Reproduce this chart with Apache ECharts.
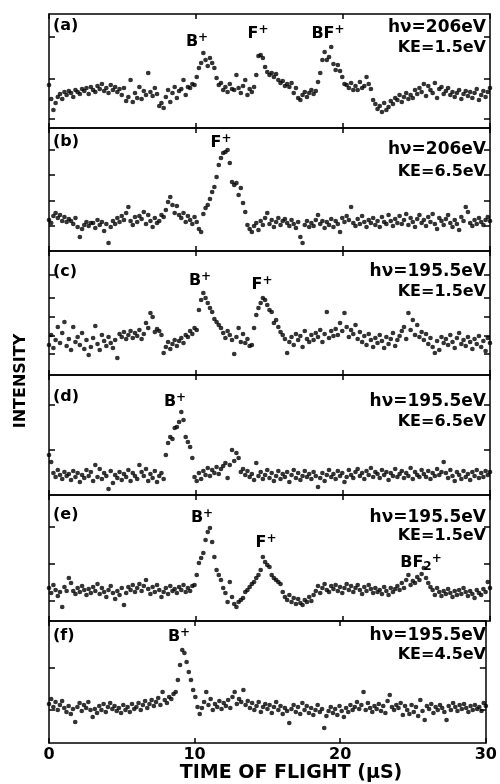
<!DOCTYPE html>
<html>
<head>
<meta charset="utf-8">
<script src="https://cdn.jsdelivr.net/npm/echarts@6/dist/echarts.min.js"></script>
<style>
html, body { margin: 0; padding: 0; background: #fff; }
#chart { width: 500px; height: 784px; }
</style>
</head>
<body>
<div id="chart"></div>
<script>
// time bins, microseconds
var TIME_STEP = 0.15;
var timeTicks = [0, 10, 20, 30];

// intensity per bin (arbitrary units), one list per panel
var panelA = [43, 29, 18, 25, 31, 34, 29, 36, 33, 37,
    35, 31, 38, 36, 34, 39, 37, 40, 34, 41,
    38, 36, 42, 39, 44, 37, 40, 35, 43, 38,
    41, 36, 39, 33, 40, 27, 31, 48, 26, 35,
    30, 41, 29, 37, 33, 55, 36, 32, 40, 34,
    22, 25, 20, 31, 38, 26, 35, 41, 30, 37,
    39, 48, 33, 41, 40, 44, 43, 51, 60, 65,
    75, 68, 62, 70, 65, 60, 50, 43, 45, 38,
    41, 36, 44, 39, 38, 53, 40, 35, 42, 48,
    33, 39, 36, 41, 53, 72, 73, 70, 61, 56,
    53, 55, 51, 54, 48, 45, 47, 42, 44, 41,
    45, 35, 40, 30, 28, 33, 36, 31, 35, 38,
    34, 37, 46, 55, 68, 76, 68, 71, 81, 64,
    58, 63, 57, 51, 44, 43, 40, 45, 38, 42,
    38, 46, 40, 42, 51, 44, 39, 28, 24, 19,
    22, 16, 25, 18, 21, 27, 24, 30, 28, 33,
    26, 31, 35, 29, 33, 30, 38, 34, 40, 36,
    44, 32, 42, 38, 35, 45, 30, 39, 41, 34,
    37, 40, 33, 36, 31, 35, 38, 29, 34, 37,
    32, 36, 30, 35, 39, 28, 33, 37, 31, 36, 40];
var panelB = [31, 28, 35, 38, 33, 36, 30, 34, 29, 32,
    30, 27, 33, 24, 14, 22, 26, 29, 25, 28,
    28, 23, 31, 26, 29, 20, 27, 8, 24, 30,
    27, 33, 29, 35, 31, 38, 44, 30, 26, 34,
    29, 35, 32, 39, 27, 36, 30, 24, 33, 28,
    30, 36, 34, 41, 49, 54, 46, 38, 45, 36,
    33, 38, 29, 35, 31, 27, 34, 29, 22, 19,
    37, 43, 46, 52, 59, 64, 74, 86, 93, 98,
    99, 101, 88, 69, 66, 68, 56, 63, 48, 39,
    26, 22, 19, 25, 28, 21, 30, 26, 33, 38,
    27, 31, 24, 29, 33, 26, 30, 32, 28, 25,
    31, 27, 23, 29, 14, 8, 26, 30, 24, 28,
    25, 31, 36, 27, 30, 23, 29, 26, 32, 24,
    30, 27, 19, 33, 29, 35, 31, 44, 28, 25,
    32, 27, 35, 29, 24, 31, 28, 33, 26, 30,
    24, 34, 29, 27, 36, 30, 25, 32, 28, 35,
    27, 31, 37, 26, 33, 29, 24, 32, 36, 28,
    31, 25, 34, 29, 37, 27, 22, 33, 30, 26,
    32, 36, 28, 24, 31, 27, 21, 34, 30, 44,
    39, 28, 25, 31, 27, 33, 29, 26, 31, 34, 30];
var panelC = [30, 40, 27, 35, 48, 32, 42, 53, 29, 36,
    25, 48, 33, 38, 30, 42, 26, 35, 20, 28,
    37, 49, 31, 25, 40, 34, 29, 38, 32, 27,
    35, 17, 41, 38, 43, 36, 40, 44, 37, 42,
    39, 45, 36, 41, 52, 47, 62, 58, 43, 46,
    44, 40, 22, 28, 33, 26, 31, 35, 29, 34,
    37, 32, 40, 38, 44, 41, 47, 45, 65, 75,
    82, 77, 72, 67, 63, 56, 53, 50, 47, 42,
    37, 44, 40, 35, 21, 38, 47, 33, 41, 32,
    36, 29, 30, 47, 60, 67, 72, 77, 75, 70,
    65, 63, 52, 55, 48, 43, 40, 36, 22, 33,
    38, 30, 41, 35, 39, 28, 44, 36, 33, 40,
    35, 42, 38, 45, 33, 41, 63, 37, 44, 39,
    46, 40, 52, 44, 62, 48, 38, 45, 41, 50,
    36, 43, 33, 39, 30, 41, 35, 28, 37, 32,
    40, 34, 27, 38, 31, 36, 42, 29, 35, 39,
    44, 48, 36, 62, 45, 55, 40, 50, 38, 43,
    35, 41, 31, 37, 28, 22, 34, 25, 38, 32,
    36, 30, 40, 33, 27, 37, 42, 31, 35, 29,
    38, 33, 26, 36, 31, 39, 28, 34, 24, 37, 32];
var panelD = [40, 33, 22, 18, 25, 20, 16, 23, 19, 21,
    15, 24, 18, 22, 13, 20, 17, 25, 19, 23,
    14, 30, 18, 26, 16, 22, 19, 6, 24, 12,
    20, 17, 23, 15, 21, 18, 25, 14, 22, 19,
    16, 30, 23, 19, 26, 14, 21, 17, 24, 13,
    19, 22, 16, 40, 52, 58, 56, 67, 68, 73,
    83, 75, 58, 53, 48, 37, 18, 14, 22, 16,
    24, 20, 27, 19, 25, 22, 28, 21, 26, 29,
    32, 17, 30, 45, 34, 42, 37, 23, 26, 20,
    24, 18, 21, 15, 32, 19, 23, 16, 20, 25,
    17, 22, 14, 19, 24, 16, 21, 18, 23, 13,
    20, 25, 17, 22, 15, 19, 24, 18, 21, 16,
    23, 19, 8, 17, 22, 14, 20, 25, 18, 21,
    16, 24, 19, 22, 13, 18, 25, 20, 17, 23,
    26, 19, 22, 16, 24, 20, 27, 18, 23, 21,
    17, 25, 20, 23, 15, 22, 19, 26, 18, 21,
    24, 17, 22, 19, 27, 16, 23, 20, 18, 25,
    21, 18, 24, 16, 22, 19, 26, 20, 23, 33,
    22, 17, 25, 19, 14, 23, 20, 16, 24, 18,
    21, 15, 23, 19, 25, 17, 22, 18, 24, 20, 23];
var panelE = [33, 28, 36, 31, 25, 29, 14, 34, 30, 43,
    38, 30, 27, 33, 29, 35, 31, 26, 32, 28,
    34, 30, 37, 27, 33, 29, 24, 31, 35, 28,
    22, 30, 26, 33, 16, 28, 34, 31, 36, 29,
    33, 37, 30, 35, 41, 32, 27, 34, 29, 36,
    31, 24, 29, 33, 27, 35, 30, 32, 28, 34,
    31, 36, 29, 33, 30, 35, 36, 46, 58, 63,
    68, 81, 89, 93, 79, 64, 51, 46, 41, 33,
    28, 19, 39, 24, 17, 14, 19, 21, 23, 29,
    31, 34, 37, 39, 43, 46, 51, 64, 59, 56,
    54, 46, 43, 41, 39, 37, 29, 24, 21, 26,
    19, 23, 17, 22, 18, 16, 21, 19, 24, 20,
    26, 30, 35, 28, 33, 37, 31, 29, 35, 32,
    36, 30, 34, 28, 33, 37, 31, 35, 29, 33,
    36, 31, 27, 34, 30, 36, 32, 28, 33, 29,
    31, 27, 34, 30, 26, 33, 29, 32, 35, 31,
    38, 33, 41, 46, 36, 40, 38, 44, 41, 47,
    53, 43, 38, 34, 31, 26, 33, 29, 25, 30,
    27, 32, 28, 24, 30, 26, 31, 27, 33, 29,
    25, 30, 27, 23, 31, 28, 26, 32, 29, 39, 33];
var panelF = [39, 44, 36, 41, 33, 38, 42, 35, 31, 37,
    29, 34, 21, 36, 40, 32, 38, 35, 41, 33,
    26, 34, 30, 37, 33, 39, 31, 36, 40, 34,
    37, 32, 35, 30, 38, 33, 36, 31, 39, 34,
    36, 40, 33, 38, 42, 35, 39, 43, 37, 41,
    45, 38, 51, 43, 40, 46, 44, 49, 51, 63,
    78, 93, 90, 81, 71, 63, 53, 46, 36, 29,
    35, 41, 51, 38, 44, 33, 39, 36, 42, 34,
    40, 37, 43, 35, 46, 51, 39, 44, 41, 53,
    38, 42, 35, 40, 33, 37, 41, 31, 36, 39,
    34, 38, 30, 36, 41, 33, 37, 29, 35, 32,
    20, 34, 38, 31, 36, 29, 40, 33, 37, 30,
    35, 28, 33, 38, 31, 34, 15, 27, 32, 36,
    30, 34, 28, 37, 32, 26, 35, 31, 38, 33,
    36, 41, 34, 38, 51, 33, 40, 35, 31, 37,
    34, 39, 32, 37, 30, 42, 48, 36, 33, 38,
    35, 40, 28, 37, 33, 29, 38, 31, 36, 27,
    43, 32, 23, 37, 34, 39, 30, 36, 33, 38,
    35, 31, 23, 37, 33, 40, 36, 32, 38, 34,
    39, 35, 31, 37, 33, 38, 34, 36, 32, 40, 37];

// intensity tick marks per panel
var yTicksA = [9, 49, 91];
var yTicksB = [25, 50, 76, 101];
var yTicksC = [21, 39, 58, 77, 100];
var yTicksD = [45, 90];
var yTicksE = [20, 57, 94];
var yTicksF = [33, 75];

var panelLetters = ['(a)', '(b)', '(c)', '(d)', '(e)', '(f)'];
var photonLabels = ['hν=206eV', 'hν=206eV', 'hν=195.5eV', 'hν=195.5eV', 'hν=195.5eV', 'hν=195.5eV'];
var keLabels = ['KE=1.5eV', 'KE=6.5eV', 'KE=1.5eV', 'KE=6.5eV', 'KE=1.5eV', 'KE=4.5eV'];

var allPanels = [panelA, panelB, panelC, panelD, panelE, panelF];
var allTicks = [yTicksA, yTicksB, yTicksC, yTicksD, yTicksE, yTicksF];

// layout: [top, height] of each panel in px
var boxes = [[14, 114], [128, 123], [251, 124], [375, 120], [495, 126], [621, 122]];
// text placement: letter y, hv y, KE y
var textY = [[27, 28, 48], [143, 150, 172], [273, 272, 292], [398, 402, 422], [516, 518, 536], [637, 636, 655]];
// peak labels: rich text, x, y
var peakLabels = [
    ['{m|B}{p|+}', 197, 42], ['{m|F}{p|+}', 258, 34], ['{m|BF}{p|+}', 328, 34],
    ['{m|F}{p|+}', 221, 143],
    ['{m|B}{p|+}', 200, 281], ['{m|F}{p|+}', 262, 285],
    ['{m|B}{p|+}', 175, 402],
    ['{m|B}{p|+}', 202, 518], ['{m|F}{p|+}', 266, 543], ['{m|BF}{b|2}{p|+}', 421, 563],
    ['{m|B}{p|+}', 179, 637]
];

var FONT = '"DejaVu Sans", sans-serif';
var chart = echarts.init(document.getElementById('chart'));

var grids = [], xAxes = [], yAxes = [], series = [], graphics = [];
var lineSt = {color: '#000', width: 1.5};

for (var k = 0; k < 6; k++) {
    grids.push({left: 49, right: 10, top: boxes[k][0], height: boxes[k][1], show: false});
    ['bottom', 'top'].forEach(function (pos) {
        xAxes.push({
            gridIndex: k, type: 'value', position: pos, min: 0, max: 30, interval: 10,
            axisLine: {show: true, onZero: false, lineStyle: lineSt},
            axisTick: {show: true, inside: true, length: 5, lineStyle: lineSt},
            axisLabel: {
                show: k === 5 && pos === 'bottom', margin: 4, color: '#000',
                fontFamily: FONT, fontWeight: 'bold', fontSize: 16
            },
            splitLine: {show: false}
        });
    });
    ['left', 'right'].forEach(function (pos) {
        yAxes.push({
            gridIndex: k, type: 'value', position: pos, min: 0, max: boxes[k][1],
            axisLine: {show: true, onZero: false, lineStyle: lineSt},
            axisTick: {show: true, inside: true, length: 6, customValues: allTicks[k], lineStyle: lineSt},
            axisLabel: {show: false},
            splitLine: {show: false}
        });
    });
    series.push({
        type: 'scatter',
        xAxisIndex: k * 2, yAxisIndex: k * 2,
        symbol: 'circle', symbolSize: 4.7,
        itemStyle: {color: '#000'},
        silent: true, animation: false,
        data: allPanels[k].map(function (v, i) {
            return [+(i * TIME_STEP).toFixed(2), v];
        })
    });
    graphics.push({
        type: 'text', left: 53, top: textY[k][0] - 9,
        style: {text: panelLetters[k], font: 'bold 16px ' + FONT, fill: '#000'}
    });
    graphics.push({
        type: 'text', x: 486, y: textY[k][1],
        style: {text: photonLabels[k], font: 'bold 17px ' + FONT, fill: '#000', align: 'right', verticalAlign: 'middle'}
    });
    graphics.push({
        type: 'text', x: 486, y: textY[k][2],
        style: {text: keLabels[k], font: 'bold 16px ' + FONT, fill: '#000', align: 'right', verticalAlign: 'middle'}
    });
}

peakLabels.forEach(function (p) {
    graphics.push({
        type: 'text', x: p[1], y: p[2],
        style: {
            text: p[0], align: 'center', verticalAlign: 'middle', fill: '#000',
            rich: {
                m: {fontFamily: FONT, fontWeight: 'bold', fontSize: 16, lineHeight: 20},
                p: {fontFamily: FONT, fontWeight: 'bold', fontSize: 12, lineHeight: 12, verticalAlign: 'top'},
                b: {fontFamily: FONT, fontWeight: 'bold', fontSize: 12, lineHeight: 12, verticalAlign: 'bottom'}
            }
        }
    });
});

graphics.push({
    type: 'text', x: 21, y: 381, rotation: Math.PI / 2,
    style: {text: 'INTENSITY', font: 'bold 16px ' + FONT, fill: '#000', align: 'center', verticalAlign: 'middle'}
});
graphics.push({
    type: 'text', x: 291, y: 773,
    style: {text: 'TIME OF FLIGHT (μS)', font: 'bold 19px ' + FONT, fill: '#000', align: 'center', verticalAlign: 'middle'}
});

chart.setOption({
    animation: false,
    grid: grids,
    xAxis: xAxes,
    yAxis: yAxes,
    series: series,
    graphic: graphics
});
</script>
</body>
</html>
